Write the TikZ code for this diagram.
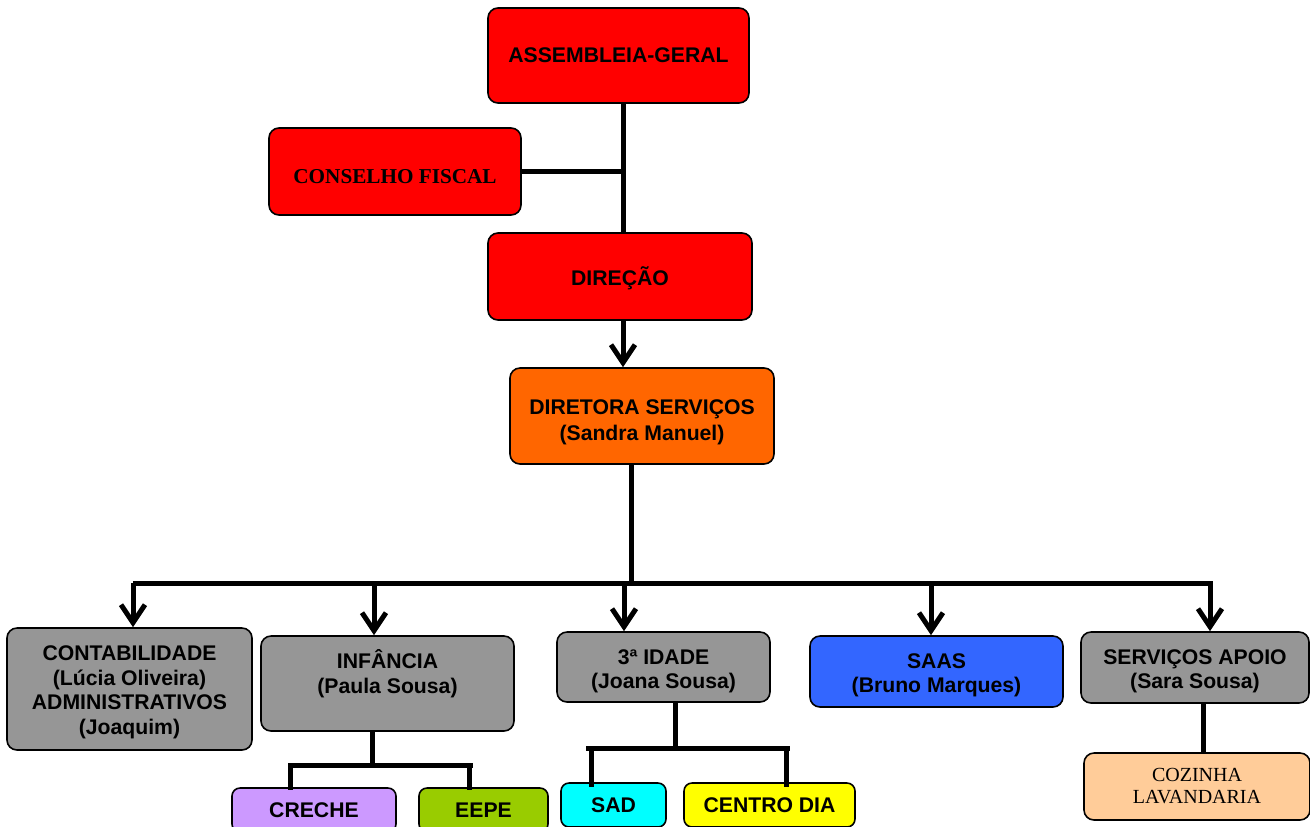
\documentclass[tikz,border=0pt]{standalone}
\usepackage{fontspec}
\setmainfont{Liberation Serif}
\setsansfont{Liberation Sans}
\usepackage{xcolor}
\usetikzlibrary{arrows.meta}

\definecolor{cRed}{HTML}{FF0000}
\definecolor{cOrange}{HTML}{FF6600}
\definecolor{cGray}{HTML}{969696}
\definecolor{cBlue}{HTML}{3366FF}
\definecolor{cLilac}{HTML}{CC99FF}
\definecolor{cLime}{HTML}{99CC00}
\definecolor{cCyan}{HTML}{00FFFF}
\definecolor{cYellow}{HTML}{FFFF00}
\definecolor{cPeach}{HTML}{FFCC99}

% pushes a box text a little down
\newcommand{\lowtxt}[1]{\rule{0pt}{#1}}

\tikzset{
  orgbox/.style={draw=black, line width=0.8pt, rounded corners=5pt, inner sep=0pt,
    align=center, font=\sffamily\bfseries\fontsize{10.6}{12.3}\selectfont},
  orgtxt/.style={inner sep=0pt, align=center, font=\sffamily\bfseries\fontsize{10.6}{12.3}\selectfont},
  link/.style={line width=2.5pt},
  linkarrow/.style={line width=2.5pt, -{Straight Barb[length=9pt,width=12pt]}}
}

\begin{document}
\begin{tikzpicture}[x=0.5pt,y=-0.5pt]
\useasboundingbox (0,0) rectangle (1310,826);

% Top boxes
\node[orgbox, fill=cRed, minimum width=130.5pt, minimum height=47.5pt] (ag) at (618.5,55.5) {ASSEMBLEIA-GERAL};
\node[orgbox, fill=cRed, minimum width=126pt, minimum height=43.5pt, font=\rmfamily\bfseries\fontsize{10.6}{12.3}\selectfont] (cf) at (395,171.5) {\lowtxt{11.6pt}CONSELHO FISCAL};
\node[orgbox, fill=cRed, minimum width=132pt, minimum height=43.5pt] (dir) at (620,276.5) {\lowtxt{11.6pt}DIREÇÃO};
\node[orgbox, fill=cOrange, minimum width=132pt, minimum height=48pt] (ds) at (642,416) {\lowtxt{13.6pt}DIRETORA SERVIÇOS\\[1pt](Sandra Manuel)};

% Second level
\node[orgbox, fill=cGray, minimum width=122.5pt, minimum height=61pt] (cont) at (129.5,689) {\lowtxt{10.6pt}CONTABILIDADE\\(Lúcia Oliveira)\\ADMINISTRATIVOS\\(Joaquim)};
\node[orgbox, fill=cGray, minimum width=126.5pt, minimum height=47.5pt] (inf) at (387.5,683.5) {};
\node[orgtxt] (infT) at (387.5,673.5) {INFÂNCIA\\(Paula Sousa)};
\node[orgbox, fill=cGray, minimum width=106.5pt, minimum height=35pt] (ter) at (663.5,667) {\lowtxt{11.6pt}3ª IDADE\\(Joana Sousa)};
\node[orgbox, fill=cBlue, minimum width=126.5pt, minimum height=35.5pt] (saas) at (936.5,671.5) {\lowtxt{11pt}SAAS\\(Bruno Marques)};
\node[orgbox, fill=cGray, minimum width=114pt, minimum height=35.5pt] (serv) at (1195,667.5) {\lowtxt{11pt}SERVIÇOS APOIO\\(Sara Sousa)};

% Third level
\node[orgbox, fill=cLilac, rounded corners=4pt, minimum width=82pt, minimum height=22pt] (cre) at (314,810) {CRECHE};
\node[orgbox, fill=cLime, rounded corners=4pt, minimum width=64.5pt, minimum height=22pt] (eepe) at (483.5,810) {EEPE};
\node[orgbox, fill=cCyan, rounded corners=4pt, minimum width=52.5pt, minimum height=22pt] (sad) at (613.5,805) {SAD};
\node[orgbox, fill=cYellow, rounded corners=4pt, minimum width=85.5pt, minimum height=22pt] (cdia) at (769.5,805) {CENTRO DIA};
\node[orgbox, fill=cPeach, minimum width=113pt, minimum height=33.5pt, font=\rmfamily\fontsize{10}{11}\selectfont] (coz) at (1197,786.5) {COZINHA\\LAVANDARIA};

% Junctions
\coordinate (top) at (623,103);
\coordinate (bus) at (631,583);
\coordinate (busL) at (133,583);
\coordinate (busR) at (1213,583);
\coordinate (b2) at (374,583);
\coordinate (b3) at (624,583);
\coordinate (b4) at (931,583);
\coordinate (b5) at (1210,583);
\coordinate (infJ) at (372,765);
\coordinate (infL) at (288,765);
\coordinate (infR) at (473,765);
\coordinate (terJ) at (675,748);
\coordinate (terL) at (586,748);
\coordinate (terR) at (790,748);

% Connectors
\draw[link] (top) -- (top |- dir.north);
\draw[link] (cf.east) -- (cf.east -| top);
\draw[linkarrow] (top |- dir.south) -- (top |- ds.north);
\draw[link] (bus |- ds.south) -- (bus);
\draw[link] (busL) -- (busR);
\draw[linkarrow] (busL) -- (busL |- cont.north);
\draw[linkarrow] (b2) -- (b2 |- inf.north);
\draw[linkarrow] (b3) -- (b3 |- ter.north);
\draw[linkarrow] (b4) -- (b4 |- saas.north);
\draw[linkarrow] (b5) -- (b5 |- serv.north);

\draw[link] (infJ |- inf.south) -- (infJ);
\draw[link] (infL) -- (infR);
\draw[link] ([xshift=1pt]infL) -- ([xshift=1pt,yshift=-1.5pt]infL |- cre.north);
\draw[link] ([xshift=-2pt]infR) -- ([xshift=-2pt,yshift=-1.5pt]infR |- eepe.north);

\draw[link] (terJ |- ter.south) -- (terJ);
\draw[link] (terL) -- (terR);
\draw[link] ([xshift=2.5pt]terL) -- ([xshift=2.5pt,yshift=-2.5pt]terL |- sad.north);
\draw[link] ([xshift=-2pt]terR) -- ([xshift=-2pt,yshift=-2.5pt]terR |- cdia.north);

\draw[link] ([xshift=4pt]serv.south) -- ([xshift=4pt]serv.south |- coz.north);

\end{tikzpicture}
\end{document}
